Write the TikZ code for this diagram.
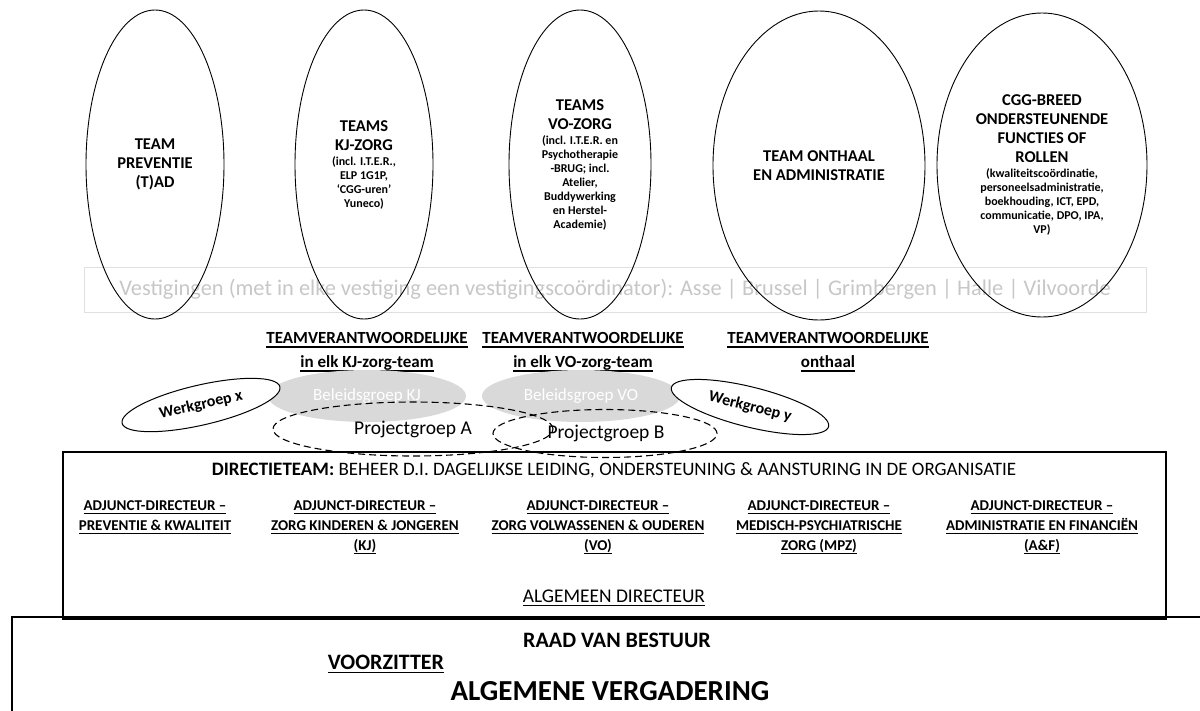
\documentclass[tikz,border=0pt]{standalone}
\usepackage{fontspec}
\setmainfont{Carlito}
\usetikzlibrary{shapes.geometric,positioning}
\newcommand{\lijn}[1]{\leavevmode\setbox0\hbox{#1}\dp0=0pt\vtop{\copy0\kern2.4pt\hrule height1.7pt width\wd0}}
\newcommand{\klein}{\fontsize{12}{14}\selectfont}
\tikzset{team/.style={ellipse,draw=black,line width=0.9pt,inner sep=0pt,minimum height=309pt,align=center,font=\bfseries\fontsize{16.5}{19}\selectfont},
		kader/.style={rectangle,draw=black,line width=1.4pt,inner sep=0pt},
		project/.style={ellipse,draw=black,line width=1.1pt,dash pattern=on 7pt off 4pt,inner sep=0pt,font=\fontsize{19.5}{22}\selectfont}}

\begin{document}
\begin{tikzpicture}[x=1pt,y=-1pt,
		beleid/.style={ellipse,fill=black!15,text=white,inner sep=0pt,minimum width=198pt,minimum height=52pt,font=\fontsize{17}{20}\selectfont},
		werk/.style={ellipse,draw=black,fill=white,line width=1pt,inner sep=0pt,minimum width=162pt,minimum height=40pt,font=\bfseries\fontsize{16}{18}\selectfont},
		verantw/.style={align=center,font=\bfseries\fontsize{17}{24}\selectfont},
		adjunct/.style={align=center,anchor=north,font=\bfseries\fontsize{15}{20}\selectfont}]
		\useasboundingbox (0,0) rectangle (1200,710);
		% vestigingen
		\node[draw=black!12,line width=1pt,minimum width=1062pt,minimum height=45pt,text=black!22,font=\fontsize{22.4}{26}\selectfont] (vestigingen) at (615,289.5) {Vestigingen (met in elke vestiging een vestigingscoördinator): Asse | Brussel | Grimbergen | Halle | Vilvoorde};
		
		% teams
		\node[team,minimum width=138pt] (preventie) at (155,164.5) {TEAM\\PREVENTIE\\(T)AD};
		\node[team,minimum width=138pt] (kjzorg) at (364,164.5) {TEAMS\\KJ-ZORG\\[-4pt]\klein (incl. I.T.E.R.,\\[-5pt]\klein ELP 1G1P,\\[-5pt]\klein ‘CGG-uren’\\[-5pt]\klein Yuneco)};
		\node[team,minimum width=142pt] (vozorg) at (580,164.5) {TEAMS\\VO-ZORG\\[-4pt]\klein (incl. I.T.E.R. en\\[-5pt]\klein Psychotherapie\\[-5pt]\klein -BRUG; incl.\\[-5pt]\klein Atelier,\\[-5pt]\klein Buddywerking\\[-5pt]\klein en Herstel-\\[-5pt]\klein Academie)};
		\node[team,minimum width=212pt] (onthaal) at (819,165.5) {TEAM ONTHAAL\\EN ADMINISTRATIE};
		\node[team,minimum width=210pt,minimum height=304pt] (cggbreed) at (1042,165) {CGG-BREED\\ONDERSTEUNENDE\\FUNCTIES OF\\ROLLEN\\[-4pt]\klein (kwaliteitscoördinatie,\\[-5pt]\klein personeelsadministratie,\\[-5pt]\klein boekhouding, ICT, EPD,\\[-5pt]\klein communicatie, DPO, IPA,\\[-5pt]\klein VP)};
		
		% teamverantwoordelijken
		\node[verantw] (verantwKJ) at (367,352) {\lijn{TEAMVERANTWOORDELIJKE}\\\lijn{in elk KJ-zorg-team}};
		\node[verantw] (verantwVO) at (583,352) {\lijn{TEAMVERANTWOORDELIJKE}\\\lijn{in elk VO-zorg-team}};
		\node[verantw] (verantwOnthaal) at (828,352) {\lijn{TEAMVERANTWOORDELIJKE}\\\lijn{onthaal}};
		
		% beleids-, werk- en projectgroepen
		\node[beleid] (beleidKJ) at (367,396) {Beleidsgroep KJ};
		\node[beleid] (beleidVO) at (581,396) {Beleidsgroep VO};
		\node[werk,rotate=13] (werkX) at (201,405) {Werkgroep x};
		\node[werk,rotate=-14] (werkY) at (750,407) {Werkgroep y};
		\node[project,minimum width=280pt,minimum height=54pt] (projA) at (413,429) {Projectgroep A};
		\node[project,minimum width=224pt,minimum height=48pt] (projB) at (605,433.5) {\hspace*{2pt}Projectgroep B};
		
		% raad van bestuur en directie
		\node[kader,minimum width=1203pt,minimum height=108pt] (raad) at (613.5,671) {};
		\node[kader,minimum width=1103pt,minimum height=167pt] (directie) at (614.5,535.5) {};
		\node[font=\fontsize{19}{22}\selectfont] (directietekst) at (614,470) {\textbf{DIRECTIETEAM:} BEHEER D.I. DAGELIJKSE LEIDING, ONDERSTEUNING \& AANSTURING IN DE ORGANISATIE};
		\node[adjunct] (adjPK) at (155,497) {\lijn{ADJUNCT-DIRECTEUR –}\\\lijn{PREVENTIE \& KWALITEIT}};
		\node[adjunct] (adjKJ) at (365,497) {\lijn{ADJUNCT-DIRECTEUR –}\\\lijn{ZORG KINDEREN \& JONGEREN}\\\lijn{(KJ)}};
		\node[adjunct] (adjVO) at (598,497) {\lijn{ADJUNCT-DIRECTEUR –}\\\lijn{ZORG VOLWASSENEN \& OUDEREN}\\\lijn{(VO)}};
		\node[adjunct] (adjMPZ) at (819,497) {\lijn{ADJUNCT-DIRECTEUR –}\\\lijn{MEDISCH-PSYCHIATRISCHE}\\\lijn{ZORG (MPZ)}};
		\node[adjunct] (adjAF) at (1042,497) {\lijn{ADJUNCT-DIRECTEUR –}\\\lijn{ADMINISTRATIE EN FINANCIËN}\\\lijn{(A\&F)}};
		\node[font=\fontsize{19.4}{22}\selectfont] (algdirecteur) at (614,598) {\lijn{ALGEMEEN DIRECTEUR}};
		\node[font=\bfseries\fontsize{22}{26}\selectfont] (raadtekst) at (617,640) {RAAD VAN BESTUUR};
		\node[font=\bfseries\fontsize{22}{26}\selectfont] (voorzitter) at (386,664) {\lijn{VOORZITTER}};
		\node[font=\bfseries\fontsize{29}{32}\selectfont] (vergadering) at (610,691) {ALGEMENE VERGADERING};
	\end{tikzpicture}
\end{document}
